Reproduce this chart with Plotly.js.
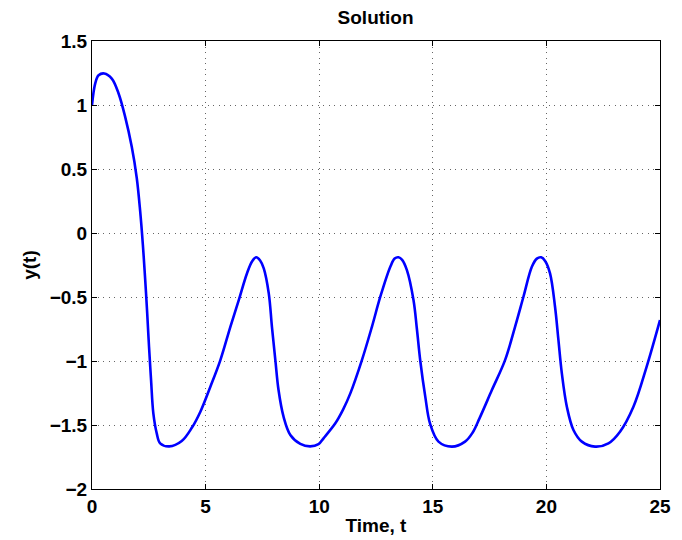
<!DOCTYPE html>
<html>
<head>
<meta charset="utf-8">
<script src="https://cdn.plot.ly/plotly-3.0.1.min.js"></script>
<style>
html,body{margin:0;padding:0;background:#fff;}
#chart{width:682px;height:540px;}
</style>
</head>
<body>
<div id="chart"></div>
<script>
const timeValues = [0, 0.14, 0.29, 0.54, 0.87, 1.17, 1.46, 1.75, 1.97, 2.12, 2.24, 2.34, 2.43, 2.51, 2.60, 2.70, 2.85, 3.0, 3.4, 3.95, 4.4, 4.77, 5.21, 5.65, 6.09, 6.46, 6.82, 7.05, 7.23, 7.4, 7.56, 7.78, 7.92, 8.07, 8.21, 8.43, 8.73, 9.17, 9.6, 9.97, 10.19, 10.71, 11.05, 11.37, 11.88, 12.32, 12.69, 13.13, 13.32, 13.49, 13.65, 13.86, 14.15, 14.3, 14.45, 14.67, 14.88, 15.25, 15.84, 16.42, 16.75, 17.05, 17.6, 18.18, 18.62, 18.99, 19.36, 19.58, 19.77, 19.95, 20.16, 20.38, 20.53, 20.68, 20.90, 21.19, 21.56, 22.14, 22.73, 23.24, 23.83, 24.41, 25.0];
const yValues = [1.0, 1.167, 1.232, 1.246, 1.206, 1.09, 0.907, 0.673, 0.43, 0.17, -0.095, -0.36, -0.628, -0.889, -1.149, -1.409, -1.565, -1.643, -1.667, -1.625, -1.52, -1.396, -1.201, -0.993, -0.733, -0.524, -0.316, -0.22, -0.19, -0.215, -0.277, -0.472, -0.733, -0.993, -1.227, -1.435, -1.578, -1.648, -1.667, -1.65, -1.604, -1.487, -1.38, -1.253, -0.993, -0.733, -0.498, -0.264, -0.2, -0.19, -0.21, -0.29, -0.524, -0.75, -1.0, -1.28, -1.49, -1.630, -1.669, -1.630, -1.56, -1.45, -1.227, -0.993, -0.733, -0.498, -0.264, -0.2, -0.19, -0.22, -0.316, -0.576, -0.837, -1.097, -1.357, -1.539, -1.630, -1.669, -1.643, -1.552, -1.357, -1.045, -0.68];
const xTicks = [0, 5, 10, 15, 20, 25];
const yTicks = [-2, -1.5, -1, -0.5, 0, 0.5, 1, 1.5];

const fontFam = '"Liberation Sans", Arial, Helvetica, sans-serif';
const axisCommon = {
  showline: true, linecolor: '#000', linewidth: 1, mirror: 'ticks',
  ticks: 'inside', ticklen: 5, tickwidth: 1, tickcolor: '#000',
  showgrid: true, gridcolor: '#666', griddash: '1px,4.5px', gridwidth: 1,
  zeroline: false,
  tickfont: {family: fontFam, size: 19, color: '#000', weight: 'bold'}
};

const data = [{
  x: timeValues, y: yValues, type: 'scatter', mode: 'lines',
  line: {color: '#0000ff', width: 2.6, shape: 'spline', smoothing: 1},
  hoverinfo: 'skip'
}];

const layout = {
  width: 682, height: 540,
  margin: {l: 91.5, r: 22, t: 40.7, b: 51},
  paper_bgcolor: '#fff', plot_bgcolor: '#fff',
  showlegend: false,
  title: {text: '<b>Solution</b>', font: {family: fontFam, size: 19, color: '#000'},
          x: 0.5507, xanchor: 'center', xref: 'container', y: 1 - 17/540, yanchor: 'middle', yref: 'container'},
  xaxis: Object.assign({}, axisCommon, {
    range: [0, 25], tickvals: xTicks, ticktext: xTicks.map(String),
    title: {text: '<b>Time, t</b>', font: {family: fontFam, size: 19, color: '#000'}, standoff: 2}
  }),
  yaxis: Object.assign({}, axisCommon, {
    range: [-2, 1.5], tickvals: yTicks, ticktext: yTicks.map(v => v < 0 ? '\u2212' + String(-v) : String(v)),
    title: {text: '<b>y(t)</b>', font: {family: fontFam, size: 19, color: '#000'}, standoff: 8}
  })
};

Plotly.newPlot('chart', data, layout, {displayModeBar: false, staticPlot: true});
</script>
</body>
</html>
